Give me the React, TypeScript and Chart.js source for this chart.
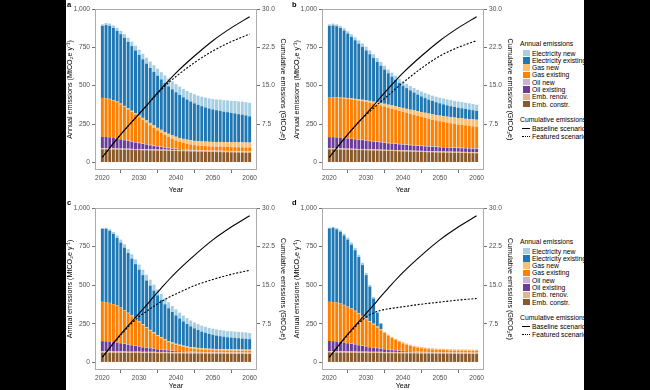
import React, { useEffect, useRef } from "react";
import { Chart, registerables } from "chart.js";

Chart.register(...registerables);

const FONT = '"Liberation Sans", Arial, Helvetica, sans-serif';

// ---------- categories & ticks ----------
const years = [
  2020, 2021, 2022, 2023, 2024, 2025, 2026, 2027, 2028, 2029,
  2030, 2031, 2032, 2033, 2034, 2035, 2036, 2037, 2038, 2039,
  2040, 2041, 2042, 2043, 2044, 2045, 2046, 2047, 2048, 2049,
  2050, 2051, 2052, 2053, 2054, 2055, 2056, 2057, 2058, 2059, 2060,
];
const xTicks = [2020, 2030, 2040, 2050, 2060];
const yTicks = [0, 250, 500, 750, 1000];
const y2Ticks = [7.5, 15, 22.5, 30];

// stack order bottom -> top
const seriesNames = [
  "Emb. constr.", "Emb. renov.", "Oil existing", "Oil new",
  "Gas existing", "Gas new", "Electricity existing", "Electricity new",
];
const seriesColors = [
  "#8B5A2B", "#E6B48A", "#6A3D9A", "#CAB2D6",
  "#FF7F00", "#FDBF6F", "#1F78B4", "#A6CEE3",
];

// ---------- panel a ----------
const aEmbConstr = [85,85,84,84,83,83,82,82,81,80,80,79,79,78,77,77,76,76,75,74,74,73,73,72,71,71,70,70,69,68,68,67,67,66,66,65,65,64,64,63,63];
const aEmbRenov = [7,7,7,7,7,7,7,7,7,7,7,7,7,7,7,7,7,7,7,7,7,7,7,7,7,7,7,7,7,7,7,7,7,7,7,7,7,7,7,7,7];
const aOilExist = [75,74,72,68,64,60,55,50,46,42,38,34,30,26,22,19,16,13,10,8,6,4,3,2,1,0,0,0,0,0,0,0,0,0,0,0,0,0,0,0,0];
const aOilNew = [0,0,0,0,1,1,2,2,2,3,3,3,3,3,3,3,3,3,3,3,3,3,2,2,2,2,2,2,2,2,2,2,2,2,2,2,2,2,2,2,2];
const aGasExist = [253,252,249,244,237,227,216,204,192,180,167,155,141,128,116,102,91,79,70,61,53,47,42,38,35,32,30,28,27,27,26,26,26,25,25,25,25,25,25,25,25];
const aGasNew = [0,1,2,3,4,5,6,7,8,9,10,12,13,15,16,17,19,20,21,23,24,25,26,27,28,28,29,29,30,30,30,30,31,31,31,31,32,32,32,32,32];
const aElecExist = [470,476,476,470,462,453,444,434,422,409,395,382,371,359,349,340,329,320,310,300,290,281,271,262,253,245,237,230,223,217,212,208,203,199,196,192,188,184,181,177,171];
const aElecNew = [10,13,15,17,19,22,24,26,29,31,34,36,38,41,43,45,47,49,51,52,53,54,55,56,57,59,60,62,64,66,68,70,73,75,77,79,81,83,85,86,88];

// ---------- panel b ----------
const bEmbConstr = [85,85,84,84,83,82,82,81,80,80,79,78,77,77,76,75,74,74,73,72,71,71,70,69,68,68,67,66,66,65,64,64,63,63,62,62,61,61,60,60,59];
const bEmbRenov = [7,7,7,7,7,7,7,7,7,7,7,7,7,7,7,7,7,7,7,7,7,7,7,7,7,7,7,7,7,7,7,7,7,7,7,7,7,7,7,7,7];
const bOilExist = [72,72,71,70,68,66,64,62,60,58,55,53,51,49,47,45,43,41,40,38,37,35,34,33,32,31,30,29,28,28,27,26,26,25,25,24,24,23,23,22,22];
const bOilNew = [0,0,0,0,1,1,1,2,2,2,2,2,3,3,3,3,3,3,3,3,3,3,3,3,3,3,3,3,3,3,3,3,3,3,3,3,3,3,3,3,3];
const bGasExist = [258,258,259,258,258,258,257,255,254,252,251,249,245,241,238,234,230,225,220,216,211,206,201,197,192,187,183,179,174,170,167,163,160,157,154,151,149,147,145,143,141];
const bGasNew = [0,1,2,3,4,5,6,7,8,9,10,12,13,15,16,18,19,21,23,24,26,27,28,30,31,32,33,34,35,36,37,38,39,40,41,42,43,43,44,45,46];
const bElecExist = [468,470,465,454,439,421,401,382,363,344,326,304,284,263,243,223,205,188,172,158,145,135,126,116,109,102,96,91,87,83,80,77,74,71,69,67,65,64,62,60,58];
const bElecNew = [10,12,12,14,15,15,17,19,21,23,25,25,25,25,25,25,24,26,27,27,28,28,29,30,31,32,33,34,35,36,37,38,39,40,40,41,41,41,41,41,40];

// ---------- panel c ----------
const cEmbConstr = [63,63,63,62,62,62,62,61,61,61,61,60,60,60,60,59,59,59,59,58,58,58,58,58,57,57,57,57,57,56,56,56,56,56,55,55,55,55,55,54,54];
const cEmbRenov = [8,8,8,8,8,8,8,8,8,8,8,8,8,8,8,8,8,8,8,8,8,8,8,8,8,8,8,8,8,8,8,8,8,8,8,8,8,8,8,8,8];
const cOilExist = [66,65,63,60,57,53,49,45,41,37,33,29,26,23,20,17,14,12,10,8,6,5,4,3,2,1,1,1,0,0,0,0,0,0,0,0,0,0,0,0,0];
const cOilNew = [0,0,0,1,1,1,2,2,2,2,2,2,2,2,2,2,2,2,2,2,2,2,2,2,2,2,1,1,1,1,1,1,1,1,1,1,1,1,1,1,1];
const cGasExist = [255,254,250,245,238,228,215,202,187,172,156,142,126,111,98,84,73,62,52,45,38,33,28,24,22,20,18,16,15,15,14,13,13,12,12,12,12,11,11,11,11];
const cGasNew = [0,0,1,1,2,2,3,3,4,4,5,5,6,6,6,7,7,7,7,8,8,8,8,8,8,8,8,8,8,8,8,8,8,8,8,8,8,8,8,8,8];
const cElecExist = [473,475,467,455,438,422,404,387,369,352,335,319,302,287,271,257,241,226,212,197,184,170,157,145,134,124,116,108,102,96,91,87,83,81,78,76,74,73,71,70,68];
const cElecNew = [5,7,10,13,16,19,22,25,28,31,33,35,37,38,38,38,39,39,39,39,39,38,38,38,38,38,38,39,39,39,40,40,40,40,40,41,41,41,41,41,40];

// ---------- panel d ----------
const dEmbConstr = [64,64,63,63,63,62,62,62,61,61,61,60,60,60,60,59,59,59,59,58,58,58,58,58,57,57,57,57,57,56,56,56,56,56,55,55,55,55,55,54,54];
const dEmbRenov = [8,8,8,8,8,8,8,8,8,8,8,8,8,8,8,8,8,8,8,8,8,8,8,8,8,8,8,8,8,8,8,8,8,8,8,8,8,8,8,8,8];
const dOilExist = [66,65,63,60,57,53,49,45,41,37,33,29,26,23,20,17,14,12,10,8,6,5,4,3,2,1,1,1,0,0,0,0,0,0,0,0,0,0,0,0,0];
const dOilNew = [0,0,0,1,1,1,2,2,2,2,2,2,2,2,2,2,2,2,2,2,2,2,2,2,2,2,1,1,1,1,1,1,1,1,1,1,1,1,1,1,1];
const dGasExist = [254,253,252,248,241,234,224,214,202,189,176,163,148,133,118,104,90,77,66,57,48,40,34,29,26,23,21,18,17,16,15,14,13,12,12,12,12,11,11,11,11];
const dGasNew = [0,0,1,1,2,2,3,3,4,4,5,5,6,6,6,7,7,7,7,8,8,8,8,8,8,8,8,8,8,8,8,8,8,8,8,8,8,8,8,8,8];
const dElecExist = [476,482,475,465,450,435,414,392,364,329,280,223,163,88,36,0,0,0,0,0,0,0,0,0,0,0,0,0,0,0,0,0,0,0,0,0,0,0,0,0,0];
const dElecNew = [4,5,8,10,12,13,14,15,15,15,14,12,10,8,5,0,0,0,0,0,0,0,0,0,0,0,0,0,0,0,0,0,0,0,0,0,0,0,0,0,0];

// ---------- cumulative emissions (GtCO2e) ----------
const lineYears = [2020, 2022, 2024, 2026, 2028, 2030, 2032, 2034, 2036, 2038, 2040, 2045, 2050, 2055, 2060];
const baselineCum = [1.0, 2.8, 4.6, 6.3, 7.9, 9.5, 11.1, 12.8, 14.4, 16.0, 17.5, 20.8, 23.8, 26.3, 28.5];
const featuredA = [1.0, 2.8, 4.6, 6.3, 7.9, 9.5, 11.1, 12.7, 14.2, 15.6, 16.8, 19.5, 21.8, 23.6, 25.1];
const featuredB = [1.0, 2.8, 4.6, 6.3, 7.9, 9.3, 10.6, 11.9, 13.1, 14.4, 15.6, 18.4, 20.8, 22.5, 23.8];
const featuredC = [1.0, 2.8, 4.5, 6.1, 7.6, 8.9, 9.9, 10.9, 11.8, 12.6, 13.3, 14.9, 16.1, 17.1, 17.9];
const featuredD = [1.0, 2.8, 4.5, 6.1, 7.6, 8.8, 9.6, 10.1, 10.4, 10.6, 10.8, 11.3, 11.7, 12.1, 12.4];

const framePlugin = {
  id: "frame",
  afterDatasetsDraw(chart: any) {
    const { ctx, chartArea: a } = chart;
    ctx.save();
    ctx.strokeStyle = "#ABABAB";
    ctx.lineWidth = 1;
    ctx.strokeRect(Math.round(a.left) + 0.5, Math.round(a.top) + 0.5, Math.round(a.right - a.left) - 1, Math.round(a.bottom - a.top) - 1);
    ctx.restore();
  },
};

type PanelProps = {
  left: number; top: number; width: number; height: number;
  leftW: number; rightW: number; bottomH: number; padTop: number;
  leftTitlePad: number; rightTitlePad: number; xTitlePad: number;
  series: number[][]; featured: number[];
};

function PanelChart(p: PanelProps) {
  const ref = useRef<HTMLCanvasElement>(null);
  useEffect(() => {
    const canvas = ref.current;
    if (!canvas) return;
    const tickFont = { family: FONT, size: 6.6 };
    const titleFont = { family: FONT, size: 7.2 };
    const datasets: any[] = [
      {
        type: "line", label: "Baseline scenario", yAxisID: "y2", xAxisID: "x",
        data: lineYears.map((x, i) => ({ x, y: baselineCum[i] })),
        borderColor: "#000", borderWidth: 1.1, pointRadius: 0, fill: false,
        cubicInterpolationMode: "monotone", order: 0,
      },
      {
        type: "line", label: "Featured scenario", yAxisID: "y2", xAxisID: "x",
        data: lineYears.map((x, i) => ({ x, y: p.featured[i] })),
        borderColor: "#000", borderWidth: 1.1, borderDash: [2, 1.6], pointRadius: 0, fill: false,
        cubicInterpolationMode: "monotone", order: 0,
      },
    ];
    p.series.forEach((vals, k) => {
      datasets.push({
        type: "bar", label: seriesNames[k], yAxisID: "y", xAxisID: "x", stack: "s",
        data: years.map((x, i) => ({ x, y: vals[i] })),
        backgroundColor: seriesColors[k], borderWidth: 0,
        barPercentage: 0.8, categoryPercentage: 1, order: 1,
      });
    });
    const chart = new Chart(canvas, {
      type: "bar",
      data: { datasets },
      plugins: [framePlugin],
      options: {
        responsive: false, animation: false, devicePixelRatio: 1,
        layout: { padding: { top: p.padTop, left: 0, right: 0, bottom: 0 } },
        plugins: { legend: { display: false }, tooltip: { enabled: false } },
        scales: {
          x: {
            type: "linear", min: 2018, max: 2062, stacked: true, offset: false,
            afterBuildTicks: (s: any) => { s.ticks = xTicks.map((v) => ({ value: v })); },
            ticks: { callback: (v: any) => String(v), font: tickFont, color: "#4D4D4D", padding: 1.5, maxRotation: 0, autoSkip: false },
            grid: { drawOnChartArea: false, drawTicks: true, tickLength: 3, color: "#333333", lineWidth: 0.7 },
            border: { display: false },
            title: { display: true, text: "Year", font: titleFont, color: "#000", padding: { top: 0, bottom: p.xTitlePad } },
            afterFit: (s: any) => { s.height = p.bottomH; },
          },
          y: {
            type: "linear", position: "left", min: -50, max: 1000, stacked: true,
            afterBuildTicks: (s: any) => { s.ticks = yTicks.map((v) => ({ value: v })); },
            ticks: { callback: (v: any) => Number(v).toLocaleString("en-US"), font: tickFont, color: "#4D4D4D", padding: 2 },
            grid: { drawOnChartArea: false, drawTicks: true, tickLength: 3, color: "#333333", lineWidth: 0.7 },
            border: { display: false },
            title: { display: true, text: "Annual emissions (MtCO\u2082e y\u207B\u00B9)", font: titleFont, color: "#000", padding: { top: p.leftTitlePad, bottom: 0 } },
            afterFit: (s: any) => { s.width = p.leftW; },
          },
          y2: {
            type: "linear", position: "right", min: -1.5, max: 30,
            afterBuildTicks: (s: any) => { s.ticks = y2Ticks.map((v) => ({ value: v })); },
            ticks: { callback: (v: any) => Number(v).toFixed(1), font: tickFont, color: "#4D4D4D", padding: 2 },
            grid: { drawOnChartArea: false, drawTicks: true, tickLength: 3, color: "#333333", lineWidth: 0.7 },
            border: { display: false },
            title: { display: true, text: "Cumulative emissions (GtCO\u2082e)", font: titleFont, color: "#000", padding: { top: p.rightTitlePad, bottom: 0 } },
            afterFit: (s: any) => { s.width = p.rightW; },
          },
        },
      } as any,
    });
    return () => chart.destroy();
  }, []);
  return (
    <canvas
      ref={ref}
      width={p.width}
      height={p.height}
      style={{ position: "absolute", left: p.left, top: p.top, width: p.width, height: p.height }}
    />
  );
}

function Legend({ top }: { top: number }) {
  const items = seriesNames.map((n, i) => ({ name: n, color: seriesColors[i] })).reverse();
  const fs = 6.8;
  const txt = (t: string, x: number, cy: number, key?: any) => (
    <div key={key} style={{ position: "absolute", left: x, top: cy - 4.5, fontSize: fs, lineHeight: "9px", whiteSpace: "nowrap", color: "#000" }}>{t}</div>
  );
  return (
    <>
      {txt("Annual emissions", 520, top)}
      {items.map((it, i) => {
        const cy = top + 10 + i * 7.3;
        return (
          <React.Fragment key={it.name}>
            <div style={{ position: "absolute", left: 523, top: cy - 3.3, width: 7, height: 6.6, background: it.color }} />
            {txt(it.name, 532, cy)}
          </React.Fragment>
        );
      })}
      {txt("Cumulative emissions", 520, top + 76)}
      <div style={{ position: "absolute", left: 522, top: top + 84.5, width: 8, height: 0, borderTop: "1px solid #000" }} />
      {txt("Baseline scenario", 532, top + 85)}
      <div style={{ position: "absolute", left: 522, top: top + 92.5, width: 8, height: 0, borderTop: "1px dotted #000" }} />
      {txt("Featured scenario", 532, top + 93)}
    </>
  );
}

const letter = (t: string, x: number, y: number) => (
  <div style={{ position: "absolute", left: x, top: y, fontSize: 7.5, fontWeight: "bold", lineHeight: "9px", color: "#000" }}>{t}</div>
);

export default function App() {
  const row1 = { top: 0, height: 195, bottomH: 25, padTop: 9, xTitlePad: 0.5 };
  const row2 = { top: 195, height: 195, bottomH: 20, padTop: 13, xTitlePad: 0 };
  const colA = { left: 66, width: 222, leftW: 29, rightW: 31, leftTitlePad: 0, rightTitlePad: 0.5 };
  const colB = { left: 292, width: 224, leftW: 30, rightW: 32, leftTitlePad: 0.5, rightTitlePad: 1.5 };
  return (
    <div style={{ position: "fixed", left: 0, top: 0, width: 650, height: 390, background: "#000", overflow: "hidden", fontFamily: FONT }}>
      <div style={{ position: "absolute", left: 66, top: 0, width: 518, height: 390, background: "#fff" }} />
      <PanelChart {...row1} {...colA} series={[aEmbConstr, aEmbRenov, aOilExist, aOilNew, aGasExist, aGasNew, aElecExist, aElecNew]} featured={featuredA} />
      <PanelChart {...row1} {...colB} series={[bEmbConstr, bEmbRenov, bOilExist, bOilNew, bGasExist, bGasNew, bElecExist, bElecNew]} featured={featuredB} />
      <PanelChart {...row2} {...colA} series={[cEmbConstr, cEmbRenov, cOilExist, cOilNew, cGasExist, cGasNew, cElecExist, cElecNew]} featured={featuredC} />
      <PanelChart {...row2} {...colB} series={[dEmbConstr, dEmbRenov, dOilExist, dOilNew, dGasExist, dGasNew, dElecExist, dElecNew]} featured={featuredD} />
      {letter("a", 67, 0)}
      {letter("b", 292, 0)}
      {letter("c", 67, 198)}
      {letter("d", 292, 198)}
      <Legend top={43} />
      <Legend top={241} />
      <div style={{ position: "absolute", left: 584, top: 0, width: 66, height: 390, background: "#000" }} />
    </div>
  );
}
